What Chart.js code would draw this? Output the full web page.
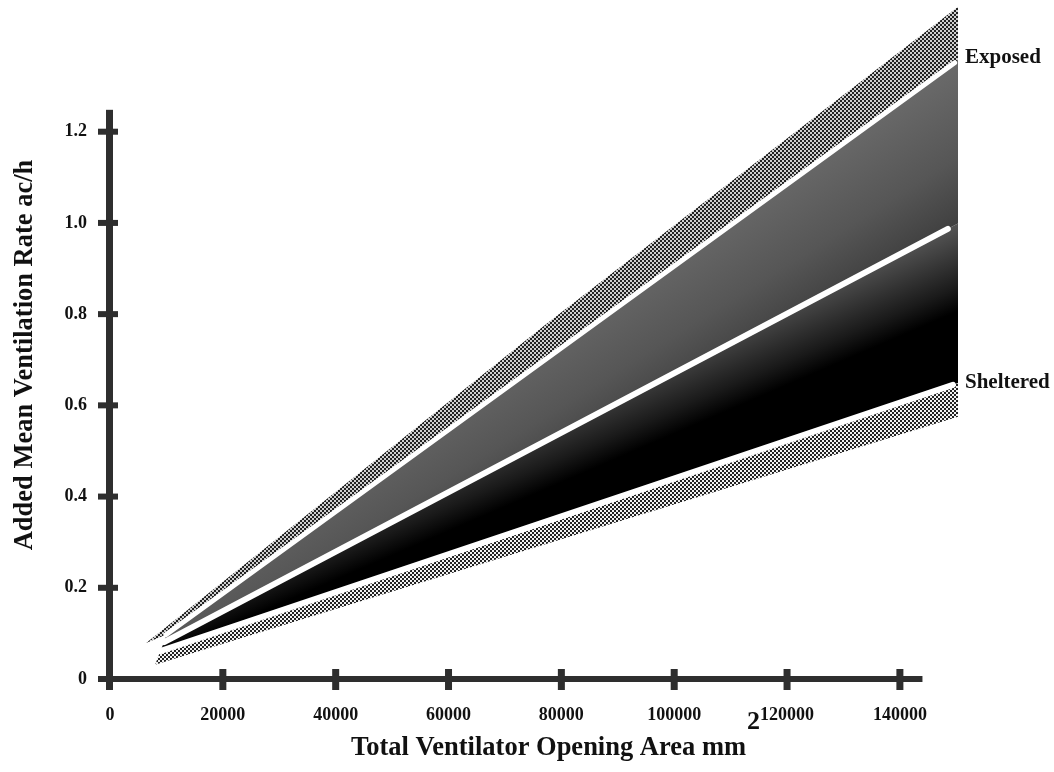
<!DOCTYPE html>
<html>
<head>
<meta charset="utf-8">
<title>Added Mean Ventilation Rate</title>
<script src="https://cdn.jsdelivr.net/npm/chart.js@4.4.1/dist/chart.umd.min.js"></script>
<style>
  html, body { margin: 0; padding: 0; background: #fff; }
  #wrap { width: 1054px; height: 772px; }
</style>
</head>
<body>
<div id="wrap"><canvas id="vent" width="1054" height="772"></canvas></div>
<script>
// --- ticks ---
const xTickValues = [0, 20000, 40000, 60000, 80000, 100000, 120000, 140000];
const xTickLabels = ['0', '20000', '40000', '60000', '80000', '100000', '120000', '140000'];
const yTickValues = [0, 0.2, 0.4, 0.6, 0.8, 1.0, 1.2];
const yTickLabels = ['0', '0.2', '0.4', '0.6', '0.8', '1.0', '1.2'];

// --- band boundaries, opening area (mm2) -> ac/h ---
// last point of each white line is where the shading stops on the right
const topEdgeX = [6400, 78000, 150300];
const topEdgeY = [0.079, 0.785, 1.474];
const exposedX = [9900, 149700, 150300];
const exposedY = [0.097, 1.351, 1.358];
const middleX = [9600, 148500, 150300];
const middleY = [0.081, 0.987, 0.999];
const shelteredX = [8900, 149400, 150300];
const shelteredY = [0.061, 0.645, 0.649];
const bottomEdgeX = [8000, 150300];
const bottomEdgeY = [0.031, 0.575];

// where the drawn axes stop
const xAxisEnd = 144000;
const yAxisEnd = 1.248;

const yAxisTitle = 'Added Mean Ventilation Rate ac/h';
const xAxisTitle = 'Total Ventilator Opening Area mm';
const xAxisTitleSup = '2';
const exposedLabel = 'Exposed';
const shelteredLabel = 'Sheltered';

const SERIF = '"Liberation Serif", "Times New Roman", serif';
Chart.defaults.font.family = SERIF;
Chart.defaults.color = '#111';

const canvas = document.getElementById('vent');
const ctx2d = canvas.getContext('2d');

const pts = (xs, ys) => xs.map((x, i) => ({ x: x, y: ys[i] }));
// closed outline: upper edge left->right, then lower edge right->left
const band = (ux, uy, lx, ly) => pts(ux, uy).concat(pts(lx, ly).reverse());
// white lines stop a little short of the shaded edge
const whiteLine = (xs, ys) => pts(xs.slice(0, -1), ys.slice(0, -1));

// halftone-ish dot screen
function halftone(light, dark) {
    const c = document.createElement('canvas');
    c.width = 4; c.height = 4;
    const g = c.getContext('2d');
    g.fillStyle = light;
    g.fillRect(0, 0, 4, 4);
    g.fillStyle = dark;
    g.fillRect(0, 0, 2, 2);
    g.fillRect(2, 2, 2, 2);
    return ctx2d.createPattern(c, 'repeat');
}

// gradient running across a wedge (from its upper edge to its lower edge)
function bandShade(ux, uy, lx, ly, stops) {
    return (context) => {
        const chart = context.chart;
        const sx = chart.scales.x, sy = chart.scales.y;
        if (!chart.chartArea || !sx || !sy) return stops[0][1];
        const px = (v) => sx.getPixelForValue(v);
        const py = (v) => sy.getPixelForValue(v);
        const iu = ux.length - 1, il = lx.length - 1;
        const tip = { x: (px(ux[0]) + px(lx[0])) / 2, y: (py(uy[0]) + py(ly[0])) / 2 };
        const a = { x: px(ux[iu]), y: py(uy[iu]) };
        const b = { x: px(lx[il]), y: py(ly[il]) };
        const dx = (a.x + b.x) / 2 - tip.x, dy = (a.y + b.y) / 2 - tip.y;
        const len = Math.hypot(dx, dy) || 1;
        const nx = -dy / len, ny = dx / len;
        const d = (b.x - a.x) * nx + (b.y - a.y) * ny;
        const g = chart.ctx.createLinearGradient(a.x, a.y, a.x + nx * d, a.y + ny * d);
        stops.forEach(s => g.addColorStop(s[0], s[1]));
        return g;
    };
}

const shapeDs = (data, bg) => ({
    data: data, backgroundColor: bg, borderWidth: 0, borderColor: 'rgba(0,0,0,0)',
    fill: 'shape', pointRadius: 0, tension: 0, order: 2
});
const lineDs = (data, w) => ({
    data: data, borderColor: '#fff', borderWidth: w, borderCapStyle: 'round',
    fill: false, pointRadius: 0, tension: 0, order: 1
});

// --- axes, titles and end labels, drawn like the hand-made original ---
const sketchAxes = {
    id: 'sketchAxes',
    afterDraw(chart) {
        const { ctx } = chart;
        const sx = chart.scales.x, sy = chart.scales.y;
        const x0 = sx.getPixelForValue(0), y0 = sy.getPixelForValue(0);
        const yTop = sy.getPixelForValue(yAxisEnd);
        ctx.save();
        ctx.fillStyle = '#2e2e2e';
        // axis bars
        ctx.fillRect(x0 - 4, yTop, 7, y0 + 11 - yTop);
        ctx.fillRect(x0 - 10, y0 - 3, sx.getPixelForValue(xAxisEnd) - x0 + 10, 6);
        // cross ticks
        yTickValues.forEach(v => {
            const y = sy.getPixelForValue(v);
            ctx.fillRect(x0 - 12, y - 3, 20, 6);
        });
        xTickValues.slice(1).forEach(v => {
            const x = sx.getPixelForValue(v);
            ctx.fillRect(x - 3.5, y0 - 10, 7, 21);
        });

        ctx.fillStyle = '#111';
        // y title
        ctx.font = 'bold 26.5px ' + SERIF;
        ctx.save();
        ctx.translate(25, 355);
        ctx.rotate(-Math.PI / 2);
        ctx.textAlign = 'center';
        ctx.textBaseline = 'middle';
        ctx.fillText(yAxisTitle, 0, 0);
        ctx.restore();
        // x title with a big raised 2
        ctx.textAlign = 'left';
        ctx.textBaseline = 'alphabetic';
        ctx.font = 'bold 26.5px ' + SERIF;
        const w1 = ctx.measureText(xAxisTitle).width;
        const left = 351;
        ctx.fillText(xAxisTitle, left, 755);
        ctx.font = 'bold 26px ' + SERIF;
        ctx.fillText(xAxisTitleSup, left + w1 + 1, 729);

        // series labels at the right-hand end
        ctx.textBaseline = 'middle';
        ctx.font = 'bold 21px ' + SERIF;
        const xr = chart.chartArea.right + 7;
        ctx.fillText(exposedLabel, xr, sy.getPixelForValue(exposedY[exposedY.length - 1]) - 2);
        ctx.fillText(shelteredLabel, xr, sy.getPixelForValue(shelteredY[shelteredY.length - 1]));
        ctx.restore();
    }
};

new Chart(canvas, {
    type: 'line',
    data: {
        datasets: [
            shapeDs(band(topEdgeX, topEdgeY, exposedX, exposedY), halftone('#cfcfcf', '#222')),
            shapeDs(band(exposedX, exposedY, middleX, middleY),
                bandShade(exposedX, exposedY, middleX, middleY, [[0, '#6a6a6a'], [0.6, '#565656'], [1, '#404040']])),
            shapeDs(band(middleX, middleY, shelteredX, shelteredY),
                bandShade(middleX, middleY, shelteredX, shelteredY, [[0, '#555'], [0.4, '#1a1a1a'], [0.55, '#000'], [1, '#000']])),
            shapeDs(band(shelteredX, shelteredY, bottomEdgeX, bottomEdgeY), halftone('#f2f2f2', '#222')),
            lineDs(whiteLine(exposedX, exposedY), 5),
            lineDs(whiteLine(middleX, middleY), 6),
            lineDs(whiteLine(shelteredX, shelteredY), 6)
        ]
    },
    options: {
        responsive: false,
        animation: false,
        layout: { padding: { top: 4, right: 96, left: 0, bottom: 0 } },
        plugins: { legend: { display: false }, tooltip: { enabled: false } },
        scales: {
            x: {
                type: 'linear', min: 0, max: 150300,
                grid: { display: false, drawTicks: false },
                border: { display: false },
                afterBuildTicks: (s) => { s.ticks = xTickValues.map(v => ({ value: v })); },
                afterFit: (s) => { s.height = 93; s.paddingLeft = 0; s.paddingRight = 0; },
                ticks: {
                    autoSkip: false, maxRotation: 0, padding: 26,
                    font: { size: 18, weight: 'bold' },
                    callback: (v, i) => xTickLabels[i]
                }
            },
            y: {
                type: 'linear', min: 0, max: 1.48,
                grid: { display: false, drawTicks: false },
                border: { display: false },
                afterBuildTicks: (s) => { s.ticks = yTickValues.map(v => ({ value: v })); },
                afterFit: (s) => { s.width = 110; s.paddingTop = 0; s.paddingBottom = 0; },
                ticks: {
                    autoSkip: false, padding: 23,
                    font: { size: 18, weight: 'bold' },
                    callback: (v, i) => yTickLabels[i]
                }
            }
        }
    },
    plugins: [sketchAxes]
});
</script>
</body>
</html>
